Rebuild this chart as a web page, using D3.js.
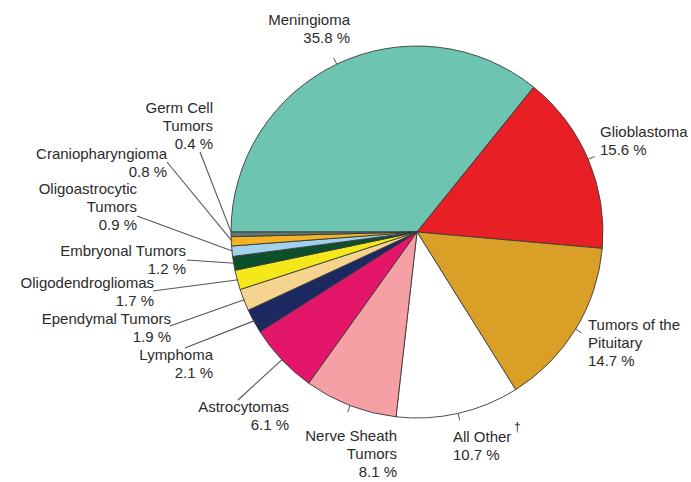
<!DOCTYPE html>
<html>
<head>
<meta charset="utf-8">
<script src="https://cdn.jsdelivr.net/npm/d3@7"></script>
<style>
  html, body { margin: 0; padding: 0; background: #fff; }
  svg { display: block; font-family: "Liberation Sans", Arial, sans-serif; }
</style>
</head>
<body>
<div id="container"></div>
<script>
// slice order: clockwise from 9 o'clock
const categories = [
  "Meningioma", "Glioblastoma", "Tumors of the Pituitary", "All Other",
  "Nerve Sheath Tumors", "Astrocytomas", "Lymphoma", "Ependymal Tumors",
  "Oligodendrogliomas", "Embryonal Tumors", "Oligoastrocytic Tumors",
  "Craniopharyngioma", "Germ Cell Tumors"
];
const percents = [35.8, 15.6, 14.7, 10.7, 8.1, 6.1, 2.1, 1.9, 1.7, 1.2, 0.9, 0.8, 0.4];
const labelLines = [
  ["Meningioma", "35.8 %"],
  ["Glioblastoma", "15.6 %"],
  ["Tumors of the", "Pituitary", "14.7 %"],
  ["All Other", "10.7 %"],
  ["Nerve Sheath", "Tumors", "8.1 %"],
  ["Astrocytomas", "6.1 %"],
  ["Lymphoma", "2.1 %"],
  ["Ependymal Tumors", "1.9 %"],
  ["Oligodendrogliomas", "1.7 %"],
  ["Embryonal Tumors", "1.2 %"],
  ["Oligoastrocytic", "Tumors", "0.9 %"],
  ["Craniopharyngioma", "0.8 %"],
  ["Germ Cell", "Tumors", "0.4 %"]
];

const colors = [
  "#6dc5b1", "#e91f26", "#d99f27", "#ffffff", "#f4a0a4", "#e3166a", "#1c2860",
  "#f4d48e", "#f5e81a", "#0c4f2b", "#a0d2ee", "#f5b324", "#5f7775"
];

// label layout: text anchor, first baseline, and (for leaders) the label-side end
// tick: short radial tick instead of a leader line
const layout = [
  { x: 350, y: 25, anchor: "end", tick: true },
  { x: 600, y: 137, anchor: "start", tick: true },
  { x: 588, y: 330, anchor: "start", tick: true },
  { x: 453, y: 442, anchor: "start", tick: true, dagger: true },
  { x: 397, y: 441, anchor: "end", tick: true },
  { x: 289, y: 412, anchor: "end", lx: 238, ly: 400 },
  { x: 213, y: 360, anchor: "end", lx: 185, ly: 348 },
  { x: 171, y: 324, anchor: "end", lx: 170, ly: 326 },
  { x: 154, y: 288, anchor: "end", lx: 153, ly: 291 },
  { x: 186, y: 256, anchor: "end", lx: 187, ly: 260 },
  { x: 137, y: 194, anchor: "end", lx: 137, ly: 216 },
  { x: 167, y: 159, anchor: "end", lx: 167, ly: 162 },
  { x: 213, y: 113, anchor: "end", lx: 200, ly: 152 }
];

const width = 691;
const height = 482;
const cx = 417, cy = 232, r = 186;
const lineH = 18;

const data = categories.map((c, i) => ({ name: c, value: percents[i], i }));

const svg = d3.select("#container").append("svg")
  .attr("width", width)
  .attr("height", height);

const g = svg.append("g").attr("transform", `translate(${cx},${cy})`);

const pie = d3.pie()
  .sort(null)
  .value((d) => d.value)
  .startAngle(-Math.PI / 2)
  .endAngle(3 * Math.PI / 2);

const arc = d3.arc().innerRadius(0).outerRadius(r);
const arcs = pie(data);

g.selectAll("path.slice")
  .data(arcs)
  .join("path")
  .attr("class", "slice")
  .attr("d", arc)
  .attr("fill", (d) => colors[d.data.i])
  .attr("stroke", "#3a3a3a")
  .attr("stroke-width", 0.9)
  .attr("stroke-linejoin", "round");

function polar(a, rad) {
  return [cx + rad * Math.sin(a), cy - rad * Math.cos(a)];
}

const labels = svg.append("g")
  .attr("font-size", 15)
  .attr("fill", "#2b2b2b");

arcs.forEach((d) => {
  const L = layout[d.data.i];
  const mid = (d.startAngle + d.endAngle) / 2;
  if (L.tick) {
    const [x1, y1] = polar(mid, r);
    const [x2, y2] = polar(mid, r + 7);
    svg.append("line")
      .attr("x1", x1).attr("y1", y1).attr("x2", x2).attr("y2", y2)
      .attr("stroke", "#555").attr("stroke-width", 1);
  } else {
    const [x1, y1] = polar(mid, r - 1);
    svg.append("line")
      .attr("x1", L.lx).attr("y1", L.ly).attr("x2", x1).attr("y2", y1)
      .attr("stroke", "#555").attr("stroke-width", 1.1);
  }
  const t = labels.append("text")
    .attr("text-anchor", L.anchor);
  labelLines[d.data.i].forEach((line, k) => {
    t.append("tspan")
      .attr("x", L.x)
      .attr("y", L.y + k * lineH)
      .text(line);
  });
  if (L.dagger) {
    labels.append("text")
      .attr("x", L.x + 61)
      .attr("y", L.y - 11)
      .attr("font-size", 12)
      .text("\u2020");
  }
});
</script>
</body>
</html>
